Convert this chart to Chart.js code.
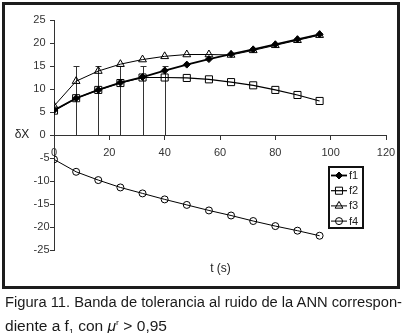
<!DOCTYPE html>
<html><head><meta charset="utf-8">
<script src="https://cdn.jsdelivr.net/npm/chart.js@4/dist/chart.umd.min.js"></script>
<style>
html,body{margin:0;padding:0;background:#fff;width:403px;height:333px;overflow:hidden}
#wrap{position:absolute;left:0;top:0;width:403px;height:292px}
#frame{position:absolute;left:2px;top:2px;width:392px;height:281px;border:3px solid #1c1c1c;pointer-events:none}
.cap{position:absolute;left:5px;font-family:"Liberation Sans",Arial,sans-serif;font-size:14px;line-height:16px;color:#1a1a1a;white-space:nowrap;transform-origin:0 0;display:inline-block}
</style></head>
<body>
<div id="wrap"><canvas id="c" width="403" height="292"></canvas></div>
<div id="frame"></div>
<span class="cap" id="cap1" style="top:294px">Figura 11. Banda de tolerancia al ruido de la ANN correspon-</span>
<span class="cap" id="cap2" style="top:315px">diente a f<sub style="font-size:8px">1</sub> con <i>μ</i><sup style="font-size:8px">r</sup> &gt; 0,95</span>
<script>
const t  = [0, 8, 16, 24, 32, 40, 48, 56, 64, 72, 80, 88, 96];
const f1 = [5.4, 8.0, 9.8, 11.4, 12.6, 14.0, 15.3, 16.5, 17.6, 18.6, 19.7, 20.8, 21.9];
const f2 = [5.3, 8.0, 9.8, 11.3, 12.5, 12.5, 12.4, 12.1, 11.5, 10.8, 9.8, 8.7, 7.4];
const f3 = [6.3, 11.7, 13.9, 15.4, 16.4, 17.1, 17.5, 17.5, 17.4, 18.4, 19.5, 20.6, 21.7];
const f4 = [-5.3, -8.0, -9.8, -11.4, -12.7, -14.0, -15.2, -16.4, -17.5, -18.7, -19.8, -20.8, -21.9];
const errX = [8, 16, 24, 32, 40];
const errLow = [0, 0, 0, 0, 0];
const errHigh = [15, 15, 15, 15, 15];
const seriesNames = ['f1', 'f2', 'f3', 'f4'];
const xLabel = 't (s)';
const yLabel = 'δX';

const pts = arr => t.map((v, i) => ({x: v, y: arr[i]}));
const FONT = '"Liberation Sans", Arial, sans-serif';

const errorBars = {
  id: 'errorBars',
  beforeDatasetsDraw(chart) {
    const {ctx, scales: {x, y}} = chart;
    ctx.save(); ctx.strokeStyle = '#333'; ctx.lineWidth = 1;
    errX.forEach((v, i) => {
      const px = Math.round(x.getPixelForValue(v)) + 0.5;
      const y0 = y.getPixelForValue(errLow[i]);
      const y1 = Math.round(y.getPixelForValue(errHigh[i])) + 0.5;
      ctx.beginPath(); ctx.moveTo(px, y0); ctx.lineTo(px, y1);
      ctx.moveTo(px - 3, y1); ctx.lineTo(px + 3, y1); ctx.stroke();
    });
    ctx.restore();
  }
};

const extras = {
  id: 'extras',
  afterDraw(chart) {
    const {ctx, scales: {x, y}} = chart;
    ctx.save();
    // y tick labels (Excel style: positive labels sit a little further left)
    ctx.fillStyle = '#333';
    ctx.font = '11px ' + FONT;
    ctx.textAlign = 'right'; ctx.textBaseline = 'middle';
    const axX = x.getPixelForValue(0);
    y.ticks.forEach(tk => {
      const v = tk.value;
      ctx.fillText(String(v), axX - (v >= 0 ? 8.5 : 4.5), y.getPixelForValue(v));
    });
    ctx.fillStyle = '#222';
    ctx.font = '12px ' + FONT;
    ctx.textAlign = 'center';
    ctx.fillText(yLabel, 22, 135);
    ctx.fillText(xLabel, 220.5, 269);
    // legend
    ctx.strokeStyle = '#111'; ctx.lineWidth = 2;
    ctx.strokeRect(329, 167, 34, 61);
    ctx.font = '11px ' + FONT;
    ctx.textAlign = 'left';
    chart.data.datasets.forEach((ds, i) => {
      const yy = 175.5 + i * 15.2;
      ctx.strokeStyle = '#000';
      ctx.lineWidth = ds.borderWidth;
      ctx.beginPath(); ctx.moveTo(331, yy); ctx.lineTo(347, yy); ctx.stroke();
      ctx.fillStyle = ds.pointBackgroundColor;
      ctx.strokeStyle = '#000';
      ctx.lineWidth = ds.pointBorderWidth;
      Chart.helpers.drawPoint(ctx, {pointStyle: ds.pointStyle, rotation: 0, radius: ds.pointRadius, borderWidth: ds.pointBorderWidth}, 339, yy);
      ctx.fillStyle = '#222';
      ctx.fillText(ds.label, 349, yy + 0.5);
    });
    ctx.restore();
  }
};

const mk = (label, arr, style, r, bw, fill) => ({
  label, data: pts(arr), borderColor: '#000', borderWidth: bw,
  pointStyle: style, pointRadius: r, pointHoverRadius: r,
  pointBorderColor: '#000', pointBackgroundColor: fill, pointBorderWidth: 1,
  tension: 0, fill: false
});

new Chart(document.getElementById('c'), {
  type: 'line',
  data: {
    datasets: [
      mk(seriesNames[0], f1, 'rectRot', 3.5, 1.8, '#000'),
      mk(seriesNames[1], f2, 'rect', 5, 1.2, 'rgba(255,255,255,0)'),
      mk(seriesNames[2], f3, 'triangle', 4.5, 1, 'rgba(255,255,255,0)'),
      mk(seriesNames[3], f4, 'circle', 3.5, 1, 'rgba(255,255,255,0)')
    ]
  },
  options: {
    responsive: false, animation: false,
    layout: {padding: {left: 54, right: 17, top: 20, bottom: 42}},
    plugins: {legend: {display: false}, tooltip: {enabled: false}},
    scales: {
      x: {
        type: 'linear', position: {y: 0}, min: 0, max: 120,
        ticks: {stepSize: 20, color: '#333', font: {family: FONT, size: 11}, padding: 7, maxRotation: 0},
        grid: {drawOnChartArea: false, drawTicks: true, tickLength: 4, color: '#333'},
        border: {display: true, color: '#333', width: 1}
      },
      y: {
        type: 'linear', position: {x: 0}, min: -25, max: 25,
        ticks: {stepSize: 5, display: false},
        grid: {drawOnChartArea: false, drawTicks: true, tickLength: 4, color: '#333'},
        border: {display: true, color: '#333', width: 1}
      }
    }
  },
  plugins: [errorBars, extras]
});

function fit(id, w) {
  const el = document.getElementById(id);
  const cw = el.getBoundingClientRect().width;
  el.style.transform = 'scaleX(' + (w / cw) + ')';
}
fit('cap1', 397);
fit('cap2', 162);
</script>
</body></html>
